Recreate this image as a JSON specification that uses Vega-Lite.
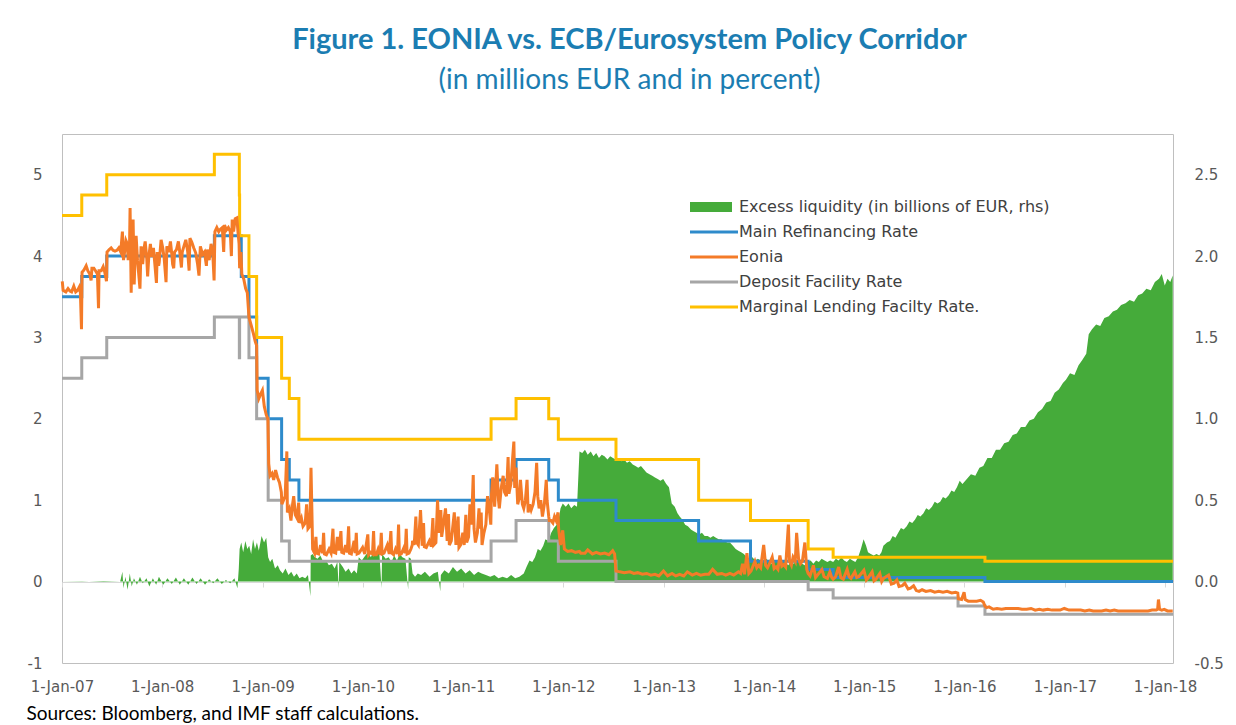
{
"$schema": "https://vega.github.io/schema/vega-lite/v6.json",
"width": 1111, "height": 529,
"autosize": {"type": "none"},
"padding": {"left": 62, "top": 134, "right": 63, "bottom": 62},
"background": "white",
"title": {"text": "Figure 1. EONIA vs. ECB/Eurosystem  Policy Corridor", "subtitle": "(in millions EUR and in percent)", "anchor": "middle", "frame": "group", "font": "Lato", "fontSize": 29, "fontWeight": "bold", "color": "#1B7DB2", "subtitleFont": "Lato", "subtitleFontSize": 28, "subtitleColor": "#1B7DB2", "subtitlePadding": 12, "offset": 39, "dx": 12},
"config": {"view": {"stroke": "#BFBFBF", "strokeWidth": 1}, "axis": {"labelFont": "DejaVu Sans", "labelFontSize": 15, "labelColor": "#595959", "grid": false},
  "legend": {"labelFont": "DejaVu Sans", "labelFontSize": 16, "labelColor": "#404040", "labelLimit": 500}},
"datasets": {
"rates": [
{"s":"Main Refinancing Rate","d":"2007-01-01","v":3.5},{"s":"Main Refinancing Rate","d":"2007-03-14","v":3.75},{"s":"Main Refinancing Rate","d":"2007-06-13","v":4.0},{"s":"Main Refinancing Rate","d":"2008-07-09","v":4.25},{"s":"Main Refinancing Rate","d":"2008-10-15","v":3.75},{"s":"Main Refinancing Rate","d":"2008-11-12","v":3.25},{"s":"Main Refinancing Rate","d":"2008-12-10","v":2.5},{"s":"Main Refinancing Rate","d":"2009-01-21","v":2.0},{"s":"Main Refinancing Rate","d":"2009-03-11","v":1.5},{"s":"Main Refinancing Rate","d":"2009-04-08","v":1.25},{"s":"Main Refinancing Rate","d":"2009-05-13","v":1.0},{"s":"Main Refinancing Rate","d":"2011-04-13","v":1.25},{"s":"Main Refinancing Rate","d":"2011-07-13","v":1.5},{"s":"Main Refinancing Rate","d":"2011-11-09","v":1.25},{"s":"Main Refinancing Rate","d":"2011-12-14","v":1.0},{"s":"Main Refinancing Rate","d":"2012-07-11","v":0.75},{"s":"Main Refinancing Rate","d":"2013-05-08","v":0.5},{"s":"Main Refinancing Rate","d":"2013-11-13","v":0.25},{"s":"Main Refinancing Rate","d":"2014-06-11","v":0.15},{"s":"Main Refinancing Rate","d":"2014-09-10","v":0.05},{"s":"Main Refinancing Rate","d":"2016-03-16","v":0.0},{"s":"Main Refinancing Rate","d":"2018-01-30","v":0.0},
{"s":"Deposit Facility Rate","d":"2007-01-01","v":2.5},{"s":"Deposit Facility Rate","d":"2007-03-14","v":2.75},{"s":"Deposit Facility Rate","d":"2007-06-13","v":3.0},{"s":"Deposit Facility Rate","d":"2008-07-09","v":3.25},{"s":"Deposit Facility Rate","d":"2008-10-08","v":2.75},{"s":"Deposit Facility Rate","d":"2008-10-09","v":3.25},{"s":"Deposit Facility Rate","d":"2008-11-12","v":2.75},{"s":"Deposit Facility Rate","d":"2008-12-10","v":2.0},{"s":"Deposit Facility Rate","d":"2009-01-21","v":1.0},{"s":"Deposit Facility Rate","d":"2009-03-11","v":0.5},{"s":"Deposit Facility Rate","d":"2009-04-08","v":0.25},{"s":"Deposit Facility Rate","d":"2011-04-13","v":0.5},{"s":"Deposit Facility Rate","d":"2011-07-13","v":0.75},{"s":"Deposit Facility Rate","d":"2011-11-09","v":0.5},{"s":"Deposit Facility Rate","d":"2011-12-14","v":0.25},{"s":"Deposit Facility Rate","d":"2012-07-11","v":0.0},{"s":"Deposit Facility Rate","d":"2014-06-11","v":-0.1},{"s":"Deposit Facility Rate","d":"2014-09-10","v":-0.2},{"s":"Deposit Facility Rate","d":"2015-12-09","v":-0.3},{"s":"Deposit Facility Rate","d":"2016-03-16","v":-0.4},{"s":"Deposit Facility Rate","d":"2018-01-30","v":-0.4},
{"s":"Marginal Lending Facilty Rate.","d":"2007-01-01","v":4.5},{"s":"Marginal Lending Facilty Rate.","d":"2007-03-14","v":4.75},{"s":"Marginal Lending Facilty Rate.","d":"2007-06-13","v":5.0},{"s":"Marginal Lending Facilty Rate.","d":"2008-07-09","v":5.25},{"s":"Marginal Lending Facilty Rate.","d":"2008-10-08","v":4.75},{"s":"Marginal Lending Facilty Rate.","d":"2008-10-09","v":4.25},{"s":"Marginal Lending Facilty Rate.","d":"2008-11-12","v":3.75},{"s":"Marginal Lending Facilty Rate.","d":"2008-12-10","v":3.0},{"s":"Marginal Lending Facilty Rate.","d":"2009-03-11","v":2.5},{"s":"Marginal Lending Facilty Rate.","d":"2009-04-08","v":2.25},{"s":"Marginal Lending Facilty Rate.","d":"2009-05-13","v":1.75},{"s":"Marginal Lending Facilty Rate.","d":"2011-04-13","v":2.0},{"s":"Marginal Lending Facilty Rate.","d":"2011-07-13","v":2.25},{"s":"Marginal Lending Facilty Rate.","d":"2011-11-09","v":2.0},{"s":"Marginal Lending Facilty Rate.","d":"2011-12-14","v":1.75},{"s":"Marginal Lending Facilty Rate.","d":"2012-07-11","v":1.5},{"s":"Marginal Lending Facilty Rate.","d":"2013-05-08","v":1.0},{"s":"Marginal Lending Facilty Rate.","d":"2013-11-13","v":0.75},{"s":"Marginal Lending Facilty Rate.","d":"2014-06-11","v":0.4},{"s":"Marginal Lending Facilty Rate.","d":"2014-09-10","v":0.3},{"s":"Marginal Lending Facilty Rate.","d":"2016-03-16","v":0.25},{"s":"Marginal Lending Facilty Rate.","d":"2018-01-30","v":0.25}
],
"eonia": [
{"d":"2007-01-02","v":3.69},{"d":"2007-01-05","v":3.58},{"d":"2007-01-15","v":3.56},{"d":"2007-01-23","v":3.60},{"d":"2007-01-30","v":3.57},{"d":"2007-02-05","v":3.56},{"d":"2007-02-13","v":3.63},{"d":"2007-02-20","v":3.56},{"d":"2007-02-27","v":3.58},{"d":"2007-03-05","v":3.62},{"d":"2007-03-09","v":3.55},{"d":"2007-03-13","v":3.10},{"d":"2007-03-15","v":3.80},{"d":"2007-03-22","v":3.83},{"d":"2007-03-30","v":3.88},{"d":"2007-04-05","v":3.82},{"d":"2007-04-12","v":3.78},{"d":"2007-04-17","v":3.70},{"d":"2007-04-20","v":3.85},{"d":"2007-04-27","v":3.85},{"d":"2007-05-03","v":3.82},{"d":"2007-05-10","v":3.78},{"d":"2007-05-14","v":3.36},{"d":"2007-05-16","v":3.82},{"d":"2007-05-24","v":3.82},{"d":"2007-05-31","v":3.87},{"d":"2007-06-06","v":3.80},{"d":"2007-06-12","v":3.69},{"d":"2007-06-14","v":4.05},{"d":"2007-06-22","v":4.08},{"d":"2007-06-29","v":4.10},{"d":"2007-07-06","v":4.07},{"d":"2007-07-13","v":4.06},{"d":"2007-07-20","v":4.07},{"d":"2007-07-27","v":4.10},{"d":"2007-08-03","v":4.05},{"d":"2007-08-09","v":4.30},{"d":"2007-08-13","v":3.95},{"d":"2007-08-17","v":4.05},{"d":"2007-08-22","v":4.19},{"d":"2007-08-27","v":4.15},{"d":"2007-08-30","v":3.95},{"d":"2007-09-04","v":4.13},{"d":"2007-09-06","v":4.59},{"d":"2007-09-10","v":3.55},{"d":"2007-09-12","v":4.08},{"d":"2007-09-17","v":4.45},{"d":"2007-09-21","v":3.65},{"d":"2007-09-25","v":4.10},{"d":"2007-09-28","v":4.25},{"d":"2007-10-03","v":3.95},{"d":"2007-10-09","v":3.72},{"d":"2007-10-12","v":3.60},{"d":"2007-10-16","v":4.12},{"d":"2007-10-22","v":3.90},{"d":"2007-10-26","v":4.08},{"d":"2007-10-31","v":4.18},{"d":"2007-11-06","v":3.96},{"d":"2007-11-09","v":3.75},{"d":"2007-11-13","v":3.99},{"d":"2007-11-19","v":4.15},{"d":"2007-11-23","v":3.99},{"d":"2007-11-30","v":4.10},{"d":"2007-12-04","v":3.95},{"d":"2007-12-11","v":3.67},{"d":"2007-12-14","v":4.05},{"d":"2007-12-19","v":3.88},{"d":"2007-12-21","v":3.92},{"d":"2007-12-28","v":4.20},
{"d":"2008-01-03","v":4.10},{"d":"2008-01-08","v":3.98},{"d":"2008-01-15","v":3.68},{"d":"2008-01-18","v":4.12},{"d":"2008-01-25","v":4.05},{"d":"2008-01-31","v":4.18},{"d":"2008-02-05","v":4.02},{"d":"2008-02-08","v":3.90},{"d":"2008-02-12","v":3.85},{"d":"2008-02-15","v":4.05},{"d":"2008-02-22","v":4.08},{"d":"2008-02-29","v":4.18},{"d":"2008-03-05","v":4.05},{"d":"2008-03-11","v":3.86},{"d":"2008-03-14","v":4.05},{"d":"2008-03-20","v":4.12},{"d":"2008-03-27","v":4.20},{"d":"2008-04-03","v":4.05},{"d":"2008-04-08","v":3.82},{"d":"2008-04-11","v":4.22},{"d":"2008-04-18","v":4.17},{"d":"2008-04-25","v":4.10},{"d":"2008-05-02","v":4.04},{"d":"2008-05-09","v":3.90},{"d":"2008-05-14","v":3.76},{"d":"2008-05-19","v":4.12},{"d":"2008-05-27","v":4.02},{"d":"2008-06-03","v":4.05},{"d":"2008-06-10","v":3.88},{"d":"2008-06-13","v":4.08},{"d":"2008-06-20","v":3.95},{"d":"2008-06-27","v":4.15},{"d":"2008-07-03","v":4.05},{"d":"2008-07-08","v":3.70},{"d":"2008-07-11","v":4.30},{"d":"2008-07-18","v":4.35},{"d":"2008-07-25","v":4.30},{"d":"2008-07-31","v":4.33},{"d":"2008-08-07","v":4.35},{"d":"2008-08-12","v":4.05},{"d":"2008-08-15","v":4.38},{"d":"2008-08-22","v":4.32},{"d":"2008-08-29","v":4.35},{"d":"2008-09-05","v":4.30},{"d":"2008-09-09","v":4.00},{"d":"2008-09-12","v":4.45},{"d":"2008-09-17","v":4.30},{"d":"2008-09-23","v":4.46},{"d":"2008-09-29","v":4.47},{"d":"2008-10-03","v":4.30},{"d":"2008-10-07","v":4.15},{"d":"2008-10-09","v":3.85},{"d":"2008-10-14","v":4.05},{"d":"2008-10-17","v":3.78},{"d":"2008-10-24","v":3.72},{"d":"2008-10-31","v":3.60},{"d":"2008-11-06","v":3.55},{"d":"2008-11-12","v":3.25},{"d":"2008-11-20","v":3.15},{"d":"2008-11-28","v":3.05},{"d":"2008-12-05","v":2.95},{"d":"2008-12-10","v":2.90},{"d":"2008-12-12","v":2.35},{"d":"2008-12-18","v":2.25},{"d":"2008-12-24","v":2.30},{"d":"2008-12-31","v":2.35},
{"d":"2009-01-07","v":2.15},{"d":"2009-01-14","v":2.05},{"d":"2009-01-20","v":2.00},{"d":"2009-01-23","v":1.45},{"d":"2009-01-28","v":1.30},{"d":"2009-02-04","v":1.33},{"d":"2009-02-10","v":1.25},{"d":"2009-02-17","v":1.37},{"d":"2009-02-24","v":1.28},{"d":"2009-03-03","v":1.22},{"d":"2009-03-10","v":1.10},{"d":"2009-03-12","v":0.95},{"d":"2009-03-18","v":1.00},{"d":"2009-03-24","v":1.05},{"d":"2009-03-30","v":1.60},{"d":"2009-04-01","v":0.85},{"d":"2009-04-08","v":0.90},{"d":"2009-04-14","v":0.75},{"d":"2009-04-20","v":0.95},{"d":"2009-04-24","v":1.05},{"d":"2009-04-30","v":0.82},{"d":"2009-05-06","v":0.78},{"d":"2009-05-12","v":0.97},{"d":"2009-05-15","v":0.72},{"d":"2009-05-22","v":0.78},{"d":"2009-05-28","v":0.68},{"d":"2009-06-05","v":0.72},{"d":"2009-06-10","v":0.95},{"d":"2009-06-15","v":0.65},{"d":"2009-06-22","v":0.68},{"d":"2009-06-26","v":1.40},{"d":"2009-06-30","v":0.75},
{"d":"2009-07-02","v":0.40},{"d":"2009-07-09","v":0.35},{"d":"2009-07-14","v":0.55},{"d":"2009-07-17","v":0.35},{"d":"2009-07-24","v":0.34},{"d":"2009-07-31","v":0.45},{"d":"2009-08-07","v":0.35},{"d":"2009-08-11","v":0.60},{"d":"2009-08-14","v":0.34},{"d":"2009-08-21","v":0.33},{"d":"2009-08-31","v":0.40},{"d":"2009-09-07","v":0.35},{"d":"2009-09-14","v":0.65},{"d":"2009-09-17","v":0.36},{"d":"2009-09-24","v":0.35},{"d":"2009-09-30","v":0.55},{"d":"2009-10-06","v":0.38},{"d":"2009-10-13","v":0.62},{"d":"2009-10-16","v":0.36},{"d":"2009-10-23","v":0.35},{"d":"2009-10-30","v":0.45},{"d":"2009-11-05","v":0.36},{"d":"2009-11-10","v":0.68},{"d":"2009-11-13","v":0.35},{"d":"2009-11-20","v":0.34},{"d":"2009-11-30","v":0.50},{"d":"2009-12-04","v":0.35},{"d":"2009-12-08","v":0.60},{"d":"2009-12-11","v":0.34},{"d":"2009-12-18","v":0.35},{"d":"2009-12-31","v":0.42},
{"d":"2010-01-08","v":0.34},{"d":"2010-01-19","v":0.58},{"d":"2010-01-22","v":0.33},{"d":"2010-01-29","v":0.36},{"d":"2010-02-05","v":0.34},{"d":"2010-02-09","v":0.62},{"d":"2010-02-12","v":0.33},{"d":"2010-02-19","v":0.33},{"d":"2010-02-26","v":0.40},{"d":"2010-03-05","v":0.33},{"d":"2010-03-09","v":0.60},{"d":"2010-03-12","v":0.34},{"d":"2010-03-19","v":0.35},{"d":"2010-03-31","v":0.45},{"d":"2010-04-07","v":0.34},{"d":"2010-04-13","v":0.62},{"d":"2010-04-16","v":0.35},{"d":"2010-04-23","v":0.33},{"d":"2010-04-30","v":0.40},{"d":"2010-05-07","v":0.34},{"d":"2010-05-11","v":0.70},{"d":"2010-05-14","v":0.33},{"d":"2010-05-21","v":0.34},{"d":"2010-05-31","v":0.42},{"d":"2010-06-04","v":0.35},{"d":"2010-06-08","v":0.65},{"d":"2010-06-11","v":0.34},{"d":"2010-06-18","v":0.35},{"d":"2010-06-25","v":0.40},{"d":"2010-06-30","v":0.45},
{"d":"2010-07-01","v":0.50},{"d":"2010-07-07","v":0.45},{"d":"2010-07-13","v":0.80},{"d":"2010-07-16","v":0.48},{"d":"2010-07-22","v":0.45},{"d":"2010-07-30","v":0.88},{"d":"2010-08-05","v":0.44},{"d":"2010-08-10","v":0.72},{"d":"2010-08-13","v":0.43},{"d":"2010-08-20","v":0.42},{"d":"2010-08-31","v":0.50},{"d":"2010-09-07","v":0.43},{"d":"2010-09-13","v":0.78},{"d":"2010-09-16","v":0.45},{"d":"2010-09-24","v":0.48},{"d":"2010-09-30","v":1.00},{"d":"2010-10-05","v":0.60},{"d":"2010-10-12","v":0.88},{"d":"2010-10-15","v":0.55},{"d":"2010-10-22","v":0.72},{"d":"2010-10-29","v":0.90},{"d":"2010-11-04","v":0.50},{"d":"2010-11-09","v":0.83},{"d":"2010-11-12","v":0.45},{"d":"2010-11-19","v":0.50},{"d":"2010-11-30","v":0.85},{"d":"2010-12-06","v":0.45},{"d":"2010-12-14","v":0.80},{"d":"2010-12-17","v":0.42},{"d":"2010-12-23","v":0.45},{"d":"2010-12-31","v":0.60},
{"d":"2011-01-05","v":0.45},{"d":"2011-01-11","v":0.82},{"d":"2011-01-14","v":0.48},{"d":"2011-01-21","v":0.55},{"d":"2011-01-26","v":0.95},{"d":"2011-02-01","v":0.70},{"d":"2011-02-07","v":1.31},{"d":"2011-02-10","v":0.65},{"d":"2011-02-15","v":0.48},{"d":"2011-02-22","v":0.60},{"d":"2011-02-28","v":0.90},{"d":"2011-03-04","v":0.65},{"d":"2011-03-08","v":0.85},{"d":"2011-03-11","v":0.45},{"d":"2011-03-18","v":0.60},{"d":"2011-03-25","v":0.70},{"d":"2011-03-31","v":1.05},{"d":"2011-04-06","v":0.90},{"d":"2011-04-12","v":0.70},{"d":"2011-04-14","v":1.05},{"d":"2011-04-19","v":1.28},{"d":"2011-04-26","v":0.92},{"d":"2011-05-04","v":1.44},{"d":"2011-05-10","v":1.00},{"d":"2011-05-13","v":0.90},{"d":"2011-05-20","v":1.15},{"d":"2011-05-27","v":1.30},{"d":"2011-06-01","v":1.10},{"d":"2011-06-08","v":1.05},{"d":"2011-06-14","v":1.53},{"d":"2011-06-17","v":1.08},{"d":"2011-06-24","v":1.20},{"d":"2011-06-30","v":1.50},{"d":"2011-07-05","v":1.72},{"d":"2011-07-08","v":1.15},{"d":"2011-07-13","v":1.40},{"d":"2011-07-19","v":0.95},{"d":"2011-07-26","v":1.05},{"d":"2011-07-29","v":1.25},{"d":"2011-08-05","v":0.95},{"d":"2011-08-10","v":0.90},{"d":"2011-08-16","v":1.00},{"d":"2011-08-22","v":1.25},{"d":"2011-08-26","v":0.85},{"d":"2011-08-31","v":0.95},{"d":"2011-09-06","v":0.88},{"d":"2011-09-13","v":0.95},{"d":"2011-09-20","v":1.10},{"d":"2011-09-26","v":1.46},{"d":"2011-09-30","v":1.05},{"d":"2011-10-05","v":0.90},{"d":"2011-10-11","v":1.00},{"d":"2011-10-17","v":0.80},{"d":"2011-10-24","v":0.95},{"d":"2011-10-31","v":1.25},{"d":"2011-11-03","v":1.00},{"d":"2011-11-09","v":0.80},{"d":"2011-11-11","v":0.75},{"d":"2011-11-17","v":0.75},{"d":"2011-11-24","v":0.72},{"d":"2011-11-30","v":0.80},{"d":"2011-12-06","v":0.75},{"d":"2011-12-13","v":0.85},{"d":"2011-12-15","v":0.65},{"d":"2011-12-22","v":0.45},{"d":"2011-12-30","v":0.63},
{"d":"2012-01-05","v":0.40},{"d":"2012-01-17","v":0.37},{"d":"2012-01-31","v":0.38},{"d":"2012-02-14","v":0.36},{"d":"2012-02-29","v":0.37},{"d":"2012-03-05","v":0.35},{"d":"2012-03-20","v":0.35},{"d":"2012-03-30","v":0.39},{"d":"2012-04-16","v":0.34},{"d":"2012-04-30","v":0.36},{"d":"2012-05-15","v":0.34},{"d":"2012-05-31","v":0.35},{"d":"2012-06-15","v":0.33},{"d":"2012-06-29","v":0.38},{"d":"2012-07-06","v":0.34},{"d":"2012-07-11","v":0.13},{"d":"2012-07-25","v":0.12},{"d":"2012-08-10","v":0.11},{"d":"2012-08-31","v":0.12},{"d":"2012-09-14","v":0.10},{"d":"2012-09-28","v":0.11},{"d":"2012-10-15","v":0.09},{"d":"2012-10-31","v":0.10},{"d":"2012-11-15","v":0.08},{"d":"2012-11-30","v":0.09},{"d":"2012-12-14","v":0.07},{"d":"2012-12-31","v":0.13},
{"d":"2013-01-15","v":0.07},{"d":"2013-01-31","v":0.10},{"d":"2013-02-14","v":0.07},{"d":"2013-02-28","v":0.09},{"d":"2013-03-15","v":0.07},{"d":"2013-03-28","v":0.12},{"d":"2013-04-15","v":0.08},{"d":"2013-04-30","v":0.10},{"d":"2013-05-15","v":0.08},{"d":"2013-05-31","v":0.09},{"d":"2013-06-14","v":0.09},{"d":"2013-06-28","v":0.15},{"d":"2013-07-15","v":0.09},{"d":"2013-07-31","v":0.10},{"d":"2013-08-15","v":0.08},{"d":"2013-08-30","v":0.10},{"d":"2013-09-13","v":0.08},{"d":"2013-09-30","v":0.12},{"d":"2013-10-08","v":0.10},{"d":"2013-10-15","v":0.22},{"d":"2013-10-22","v":0.09},{"d":"2013-10-31","v":0.35},{"d":"2013-11-07","v":0.10},{"d":"2013-11-15","v":0.13},{"d":"2013-11-29","v":0.25},{"d":"2013-12-06","v":0.17},{"d":"2013-12-13","v":0.20},{"d":"2013-12-20","v":0.17},{"d":"2013-12-31","v":0.45},
{"d":"2014-01-07","v":0.20},{"d":"2014-01-14","v":0.17},{"d":"2014-01-21","v":0.22},{"d":"2014-01-31","v":0.30},{"d":"2014-02-07","v":0.16},{"d":"2014-02-14","v":0.18},{"d":"2014-02-21","v":0.15},{"d":"2014-02-28","v":0.32},{"d":"2014-03-07","v":0.19},{"d":"2014-03-14","v":0.21},{"d":"2014-03-21","v":0.18},{"d":"2014-03-31","v":0.70},{"d":"2014-04-04","v":0.25},{"d":"2014-04-11","v":0.20},{"d":"2014-04-17","v":0.30},{"d":"2014-04-25","v":0.25},{"d":"2014-04-30","v":0.60},{"d":"2014-05-07","v":0.28},{"d":"2014-05-14","v":0.22},{"d":"2014-05-21","v":0.25},{"d":"2014-05-30","v":0.48},{"d":"2014-06-06","v":0.15},{"d":"2014-06-11","v":0.10},{"d":"2014-06-18","v":0.07},{"d":"2014-06-30","v":0.20},{"d":"2014-07-08","v":0.05},{"d":"2014-07-15","v":0.08},{"d":"2014-07-31","v":0.15},{"d":"2014-08-08","v":0.06},{"d":"2014-08-20","v":0.04},{"d":"2014-08-29","v":0.12},{"d":"2014-09-05","v":0.05},{"d":"2014-09-10","v":0.03},{"d":"2014-09-19","v":0.06},{"d":"2014-09-30","v":0.18},{"d":"2014-10-08","v":0.05},{"d":"2014-10-17","v":0.03},{"d":"2014-10-31","v":0.15},{"d":"2014-11-07","v":0.06},{"d":"2014-11-14","v":0.04},{"d":"2014-11-28","v":0.12},{"d":"2014-12-05","v":0.05},{"d":"2014-12-12","v":0.06},{"d":"2014-12-31","v":0.14},
{"d":"2015-01-09","v":0.02},{"d":"2015-01-16","v":0.05},{"d":"2015-01-30","v":0.12},{"d":"2015-02-06","v":0.01},{"d":"2015-02-13","v":0.03},{"d":"2015-02-27","v":0.10},{"d":"2015-03-06","v":0.00},{"d":"2015-03-13","v":0.04},{"d":"2015-03-31","v":0.08},{"d":"2015-04-10","v":-0.03},{"d":"2015-04-20","v":-0.02},{"d":"2015-04-30","v":0.02},{"d":"2015-05-08","v":-0.06},{"d":"2015-05-20","v":-0.05},{"d":"2015-05-29","v":-0.02},{"d":"2015-06-10","v":-0.09},{"d":"2015-06-19","v":-0.08},{"d":"2015-06-30","v":-0.05},{"d":"2015-07-10","v":-0.11},{"d":"2015-07-20","v":-0.12},{"d":"2015-07-31","v":-0.10},{"d":"2015-08-14","v":-0.12},{"d":"2015-08-31","v":-0.11},{"d":"2015-09-15","v":-0.13},{"d":"2015-09-30","v":-0.12},{"d":"2015-10-15","v":-0.13},{"d":"2015-10-30","v":-0.12},{"d":"2015-11-16","v":-0.14},{"d":"2015-11-30","v":-0.13},{"d":"2015-12-08","v":-0.14},{"d":"2015-12-10","v":-0.21},{"d":"2015-12-22","v":-0.22},{"d":"2015-12-31","v":-0.13},
{"d":"2016-01-04","v":-0.22},{"d":"2016-01-15","v":-0.24},{"d":"2016-01-29","v":-0.24},{"d":"2016-02-15","v":-0.24},{"d":"2016-02-29","v":-0.23},{"d":"2016-03-10","v":-0.25},{"d":"2016-03-16","v":-0.30},{"d":"2016-03-22","v":-0.32},{"d":"2016-03-31","v":-0.31},{"d":"2016-04-15","v":-0.34},{"d":"2016-04-29","v":-0.33},{"d":"2016-05-16","v":-0.34},{"d":"2016-05-31","v":-0.33},{"d":"2016-06-15","v":-0.33},{"d":"2016-06-30","v":-0.33},{"d":"2016-07-15","v":-0.33},{"d":"2016-07-29","v":-0.34},{"d":"2016-08-15","v":-0.34},{"d":"2016-08-31","v":-0.33},{"d":"2016-09-15","v":-0.35},{"d":"2016-09-30","v":-0.34},{"d":"2016-10-14","v":-0.35},{"d":"2016-10-31","v":-0.34},{"d":"2016-11-15","v":-0.35},{"d":"2016-11-30","v":-0.35},{"d":"2016-12-15","v":-0.35},{"d":"2016-12-30","v":-0.33},
{"d":"2017-01-16","v":-0.35},{"d":"2017-01-31","v":-0.35},{"d":"2017-02-15","v":-0.35},{"d":"2017-02-28","v":-0.35},{"d":"2017-03-15","v":-0.36},{"d":"2017-03-31","v":-0.35},{"d":"2017-04-14","v":-0.36},{"d":"2017-04-28","v":-0.36},{"d":"2017-05-15","v":-0.36},{"d":"2017-05-31","v":-0.35},{"d":"2017-06-15","v":-0.36},{"d":"2017-06-30","v":-0.35},{"d":"2017-07-14","v":-0.36},{"d":"2017-07-31","v":-0.36},{"d":"2017-08-15","v":-0.36},{"d":"2017-08-31","v":-0.36},{"d":"2017-09-15","v":-0.36},{"d":"2017-09-29","v":-0.36},{"d":"2017-10-16","v":-0.36},{"d":"2017-10-31","v":-0.36},{"d":"2017-11-15","v":-0.35},{"d":"2017-11-30","v":-0.35},{"d":"2017-12-05","v":-0.34},{"d":"2017-12-08","v":-0.22},{"d":"2017-12-12","v":-0.34},{"d":"2017-12-20","v":-0.35},{"d":"2017-12-29","v":-0.34},{"d":"2018-01-10","v":-0.36},{"d":"2018-01-29","v":-0.36}
],
"el": [
{"d":"2007-01-01","v":0.0},{"d":"2007-03-15","v":0.003},{"d":"2007-06-01","v":-0.003},{"d":"2007-08-01","v":0.0},{"d":"2007-08-09","v":0.06},{"d":"2007-08-13","v":-0.04},{"d":"2007-08-20","v":0.03},{"d":"2007-08-28","v":-0.05},{"d":"2007-09-05","v":0.05},{"d":"2007-09-12","v":-0.03},{"d":"2007-09-20","v":0.02},{"d":"2007-10-01","v":-0.02},{"d":"2007-10-12","v":0.03},{"d":"2007-10-22","v":-0.01},{"d":"2007-11-05","v":0.02},{"d":"2007-11-15","v":-0.03},{"d":"2007-11-28","v":0.02},{"d":"2007-12-10","v":-0.02},{"d":"2007-12-20","v":0.03},
{"d":"2008-01-05","v":-0.02},{"d":"2008-01-20","v":0.02},{"d":"2008-02-05","v":-0.015},{"d":"2008-02-20","v":0.025},{"d":"2008-03-05","v":-0.02},{"d":"2008-03-20","v":0.02},{"d":"2008-04-05","v":-0.02},{"d":"2008-04-20","v":0.025},{"d":"2008-05-05","v":-0.015},{"d":"2008-05-20","v":0.02},{"d":"2008-06-05","v":-0.02},{"d":"2008-06-20","v":0.015},{"d":"2008-07-05","v":-0.01},{"d":"2008-07-20","v":0.02},{"d":"2008-08-05","v":-0.015},{"d":"2008-08-20","v":0.01},{"d":"2008-09-05","v":-0.01},{"d":"2008-09-20","v":0.02},{"d":"2008-10-01","v":-0.04},{"d":"2008-10-06","v":0.08},{"d":"2008-10-09","v":0.20},{"d":"2008-10-15","v":0.24},{"d":"2008-10-22","v":0.18},{"d":"2008-10-30","v":0.25},{"d":"2008-11-06","v":0.20},{"d":"2008-11-13","v":0.22},{"d":"2008-11-20","v":0.17},{"d":"2008-11-27","v":0.26},{"d":"2008-12-04","v":0.20},{"d":"2008-12-11","v":0.24},{"d":"2008-12-18","v":0.19},{"d":"2008-12-28","v":0.28},
{"d":"2009-01-06","v":0.24},{"d":"2009-01-14","v":0.27},{"d":"2009-01-21","v":0.15},{"d":"2009-01-28","v":0.12},{"d":"2009-02-05","v":0.14},{"d":"2009-02-15","v":0.08},{"d":"2009-02-25","v":0.10},{"d":"2009-03-05","v":0.07},{"d":"2009-03-15","v":0.05},{"d":"2009-03-25","v":0.08},{"d":"2009-04-05","v":0.04},{"d":"2009-04-15","v":0.06},{"d":"2009-04-25","v":0.03},{"d":"2009-05-05","v":0.05},{"d":"2009-05-15","v":0.02},{"d":"2009-05-25","v":0.03},{"d":"2009-06-05","v":0.02},{"d":"2009-06-15","v":0.04},{"d":"2009-06-24","v":-0.09},{"d":"2009-06-25","v":0.16},{"d":"2009-07-02","v":0.17},{"d":"2009-07-10","v":0.15},{"d":"2009-07-20","v":0.14},{"d":"2009-07-30","v":0.16},{"d":"2009-08-10","v":0.12},{"d":"2009-08-20","v":0.13},{"d":"2009-08-30","v":0.10},{"d":"2009-09-10","v":0.11},{"d":"2009-09-20","v":0.08},{"d":"2009-09-30","v":0.12},{"d":"2009-10-05","v":-0.04},{"d":"2009-10-07","v":0.12},{"d":"2009-10-20","v":0.09},{"d":"2009-10-30","v":0.06},{"d":"2009-11-10","v":0.08},{"d":"2009-11-20","v":0.05},{"d":"2009-11-30","v":0.07},{"d":"2009-12-10","v":0.05},{"d":"2009-12-17","v":0.15},{"d":"2009-12-28","v":0.13},
{"d":"2010-01-10","v":0.16},{"d":"2010-01-20","v":0.18},{"d":"2010-01-30","v":0.15},{"d":"2010-02-10","v":0.19},{"d":"2010-02-20","v":0.17},{"d":"2010-03-01","v":0.20},{"d":"2010-03-10","v":-0.04},{"d":"2010-03-12","v":0.17},{"d":"2010-03-25","v":0.14},{"d":"2010-04-05","v":0.15},{"d":"2010-04-15","v":0.12},{"d":"2010-04-25","v":0.16},{"d":"2010-05-05","v":0.13},{"d":"2010-05-15","v":0.17},{"d":"2010-05-25","v":0.15},{"d":"2010-06-05","v":0.14},{"d":"2010-06-15","v":-0.05},{"d":"2010-06-17","v":0.15},{"d":"2010-06-25","v":0.14},{"d":"2010-07-01","v":0.05},{"d":"2010-07-10","v":0.03},{"d":"2010-07-20","v":0.05},{"d":"2010-08-01","v":0.04},{"d":"2010-08-15","v":0.06},{"d":"2010-09-01","v":0.03},{"d":"2010-09-15","v":0.05},{"d":"2010-10-01","v":0.06},{"d":"2010-10-10","v":-0.06},{"d":"2010-10-12","v":0.04},{"d":"2010-10-25","v":0.07},{"d":"2010-11-10","v":0.05},{"d":"2010-11-25","v":0.09},{"d":"2010-12-10","v":0.06},{"d":"2010-12-25","v":0.08},
{"d":"2011-01-10","v":0.05},{"d":"2011-01-25","v":0.07},{"d":"2011-02-10","v":0.04},{"d":"2011-02-25","v":0.06},{"d":"2011-03-10","v":0.05},{"d":"2011-03-25","v":0.04},{"d":"2011-04-10","v":0.03},{"d":"2011-04-25","v":0.04},{"d":"2011-05-10","v":0.02},{"d":"2011-05-25","v":0.03},{"d":"2011-06-10","v":0.02},{"d":"2011-06-25","v":0.04},{"d":"2011-07-10","v":0.02},{"d":"2011-07-25","v":0.03},{"d":"2011-08-10","v":0.05},{"d":"2011-08-20","v":0.09},{"d":"2011-08-31","v":0.13},{"d":"2011-09-10","v":0.12},{"d":"2011-09-20","v":0.15},{"d":"2011-09-30","v":0.20},{"d":"2011-10-10","v":0.19},{"d":"2011-10-20","v":0.22},{"d":"2011-10-28","v":0.26},{"d":"2011-11-08","v":0.25},{"d":"2011-11-18","v":0.30},{"d":"2011-11-28","v":0.33},{"d":"2011-12-08","v":0.35},{"d":"2011-12-15","v":0.38},{"d":"2011-12-22","v":0.45},{"d":"2011-12-30","v":0.48},
{"d":"2012-01-10","v":0.46},{"d":"2012-01-20","v":0.48},{"d":"2012-01-30","v":0.45},{"d":"2012-02-10","v":0.47},{"d":"2012-02-20","v":0.46},{"d":"2012-02-29","v":0.80},{"d":"2012-03-10","v":0.79},{"d":"2012-03-20","v":0.81},{"d":"2012-03-30","v":0.78},{"d":"2012-04-10","v":0.80},{"d":"2012-04-20","v":0.77},{"d":"2012-04-30","v":0.79},{"d":"2012-05-10","v":0.76},{"d":"2012-05-20","v":0.78},{"d":"2012-05-30","v":0.77},{"d":"2012-06-10","v":0.75},{"d":"2012-06-20","v":0.77},{"d":"2012-06-30","v":0.76},{"d":"2012-07-10","v":0.75},{"d":"2012-07-20","v":0.76},{"d":"2012-07-30","v":0.74},{"d":"2012-08-10","v":0.75},{"d":"2012-08-20","v":0.73},{"d":"2012-08-30","v":0.74},{"d":"2012-09-10","v":0.72},{"d":"2012-09-20","v":0.71},{"d":"2012-09-30","v":0.70},{"d":"2012-10-10","v":0.71},{"d":"2012-10-20","v":0.69},{"d":"2012-10-30","v":0.67},{"d":"2012-11-10","v":0.66},{"d":"2012-11-20","v":0.65},{"d":"2012-11-30","v":0.64},{"d":"2012-12-10","v":0.63},{"d":"2012-12-20","v":0.62},{"d":"2012-12-30","v":0.63},
{"d":"2013-01-10","v":0.60},{"d":"2013-01-20","v":0.58},{"d":"2013-01-30","v":0.48},{"d":"2013-02-10","v":0.46},{"d":"2013-02-20","v":0.42},{"d":"2013-02-28","v":0.40},{"d":"2013-03-10","v":0.38},{"d":"2013-03-20","v":0.35},{"d":"2013-03-30","v":0.34},{"d":"2013-04-10","v":0.32},{"d":"2013-04-20","v":0.31},{"d":"2013-04-30","v":0.30},{"d":"2013-05-10","v":0.29},{"d":"2013-05-20","v":0.30},{"d":"2013-05-30","v":0.28},{"d":"2013-06-10","v":0.28},{"d":"2013-06-20","v":0.27},{"d":"2013-06-30","v":0.28},{"d":"2013-07-10","v":0.27},{"d":"2013-07-20","v":0.26},{"d":"2013-07-30","v":0.26},{"d":"2013-08-10","v":0.25},{"d":"2013-08-20","v":0.24},{"d":"2013-08-30","v":0.24},{"d":"2013-09-10","v":0.22},{"d":"2013-09-20","v":0.20},{"d":"2013-09-30","v":0.19},{"d":"2013-10-10","v":0.18},{"d":"2013-10-20","v":0.17},{"d":"2013-10-30","v":0.15},{"d":"2013-11-10","v":0.14},{"d":"2013-11-20","v":0.15},{"d":"2013-11-30","v":0.13},{"d":"2013-12-10","v":0.14},{"d":"2013-12-20","v":0.13},{"d":"2013-12-30","v":0.12},
{"d":"2014-01-10","v":0.14},{"d":"2014-01-20","v":0.12},{"d":"2014-01-30","v":0.11},{"d":"2014-02-10","v":0.13},{"d":"2014-02-20","v":0.12},{"d":"2014-03-01","v":0.11},{"d":"2014-03-15","v":0.13},{"d":"2014-03-30","v":0.10},{"d":"2014-04-10","v":0.12},{"d":"2014-04-20","v":0.11},{"d":"2014-04-30","v":0.13},{"d":"2014-05-10","v":0.12},{"d":"2014-05-20","v":0.11},{"d":"2014-05-30","v":0.10},{"d":"2014-06-10","v":0.12},{"d":"2014-06-20","v":0.13},{"d":"2014-06-30","v":0.11},{"d":"2014-07-10","v":0.13},{"d":"2014-07-20","v":0.12},{"d":"2014-07-30","v":0.14},{"d":"2014-08-10","v":0.13},{"d":"2014-08-20","v":0.12},{"d":"2014-08-30","v":0.13},{"d":"2014-09-10","v":0.12},{"d":"2014-09-20","v":0.14},{"d":"2014-09-30","v":0.13},{"d":"2014-10-10","v":0.15},{"d":"2014-10-20","v":0.13},{"d":"2014-10-30","v":0.12},{"d":"2014-11-10","v":0.14},{"d":"2014-11-20","v":0.13},{"d":"2014-11-30","v":0.12},{"d":"2014-12-10","v":0.15},{"d":"2014-12-20","v":0.20},{"d":"2014-12-30","v":0.26},
{"d":"2015-01-08","v":0.22},{"d":"2015-01-15","v":0.18},{"d":"2015-01-25","v":0.17},{"d":"2015-02-05","v":0.16},{"d":"2015-02-15","v":0.17},{"d":"2015-02-25","v":0.16},{"d":"2015-03-05","v":0.18},{"d":"2015-03-12","v":0.22},{"d":"2015-03-25","v":0.24},{"d":"2015-04-05","v":0.25},{"d":"2015-04-15","v":0.28},{"d":"2015-04-25","v":0.27},{"d":"2015-05-05","v":0.30},{"d":"2015-05-15","v":0.33},{"d":"2015-05-25","v":0.32},{"d":"2015-06-05","v":0.34},{"d":"2015-06-15","v":0.37},{"d":"2015-06-25","v":0.36},{"d":"2015-07-05","v":0.38},{"d":"2015-07-15","v":0.41},{"d":"2015-07-25","v":0.40},{"d":"2015-08-05","v":0.42},{"d":"2015-08-15","v":0.45},{"d":"2015-08-25","v":0.44},{"d":"2015-09-05","v":0.46},{"d":"2015-09-15","v":0.49},{"d":"2015-09-25","v":0.48},{"d":"2015-10-05","v":0.49},{"d":"2015-10-15","v":0.52},{"d":"2015-10-25","v":0.51},{"d":"2015-11-05","v":0.53},{"d":"2015-11-15","v":0.56},{"d":"2015-11-25","v":0.55},{"d":"2015-12-05","v":0.58},{"d":"2015-12-15","v":0.62},{"d":"2015-12-25","v":0.60},
{"d":"2016-01-10","v":0.63},{"d":"2016-01-25","v":0.66},{"d":"2016-02-10","v":0.65},{"d":"2016-02-25","v":0.70},{"d":"2016-03-10","v":0.71},{"d":"2016-03-25","v":0.76},{"d":"2016-04-10","v":0.76},{"d":"2016-04-25","v":0.81},{"d":"2016-05-10","v":0.81},{"d":"2016-05-25","v":0.85},{"d":"2016-06-10","v":0.86},{"d":"2016-06-25","v":0.90},{"d":"2016-07-10","v":0.91},{"d":"2016-07-25","v":0.95},{"d":"2016-08-10","v":0.95},{"d":"2016-08-25","v":0.99},{"d":"2016-09-10","v":1.00},{"d":"2016-09-25","v":1.04},{"d":"2016-10-10","v":1.06},{"d":"2016-10-25","v":1.10},{"d":"2016-11-10","v":1.11},{"d":"2016-11-25","v":1.16},{"d":"2016-12-10","v":1.18},{"d":"2016-12-25","v":1.22},
{"d":"2017-01-05","v":1.24},{"d":"2017-01-20","v":1.28},{"d":"2017-02-05","v":1.27},{"d":"2017-02-20","v":1.33},{"d":"2017-03-05","v":1.36},{"d":"2017-03-20","v":1.40},{"d":"2017-03-29","v":1.52},{"d":"2017-04-10","v":1.55},{"d":"2017-04-25","v":1.58},{"d":"2017-05-10","v":1.57},{"d":"2017-05-25","v":1.62},{"d":"2017-06-10","v":1.63},{"d":"2017-06-25","v":1.66},{"d":"2017-07-10","v":1.67},{"d":"2017-07-25","v":1.70},{"d":"2017-08-10","v":1.71},{"d":"2017-08-25","v":1.73},{"d":"2017-09-10","v":1.72},{"d":"2017-09-25","v":1.76},{"d":"2017-10-10","v":1.77},{"d":"2017-10-25","v":1.80},{"d":"2017-11-10","v":1.79},{"d":"2017-11-25","v":1.84},{"d":"2017-12-10","v":1.86},{"d":"2017-12-20","v":1.89},{"d":"2017-12-31","v":1.82},{"d":"2018-01-10","v":1.86},{"d":"2018-01-20","v":1.84},{"d":"2018-01-29","v":1.88}
]
},
"encoding": {
  "x": {"field": "d", "type": "temporal",
    "scale": {"type": "utc", "domain": [{"year": 2007, "month": 1, "date": 1, "utc": true}, {"year": 2018, "month": 1, "date": 30, "utc": true}]},
    "axis": {"orient": "bottom", "offset": -81, "labelExpr": "utcFormat(datum.value, '%-d-%b-%y')",
      "values": [{"year": 2007, "month": 1, "date": 1, "utc": true},{"year": 2008, "month": 1, "date": 1, "utc": true},{"year": 2009, "month": 1, "date": 1, "utc": true},{"year": 2010, "month": 1, "date": 1, "utc": true},{"year": 2011, "month": 1, "date": 1, "utc": true},{"year": 2012, "month": 1, "date": 1, "utc": true},{"year": 2013, "month": 1, "date": 1, "utc": true},{"year": 2014, "month": 1, "date": 1, "utc": true},{"year": 2015, "month": 1, "date": 1, "utc": true},{"year": 2016, "month": 1, "date": 1, "utc": true},{"year": 2017, "month": 1, "date": 1, "utc": true},{"year": 2018, "month": 1, "date": 1, "utc": true}],
      "domainColor": "#D9D9D9", "tickColor": "#D9D9D9", "tickSize": 5, "labelPadding": 92, "labelFlush": false, "labelOverlap": false,
      "title": "Sources: Bloomberg, and IMF staff calculations.", "titleFont": "Lato", "titleFontSize": 19, "titleFontWeight": "normal", "titleColor": "#000000", "titleAnchor": "start", "titleAlign": "left", "titleBaseline": "alphabetic", "titleX": -36, "titleY": 137}
  }
},
"layer": [
  {"data": {"name": "el"},
   "mark": {"type": "area", "interpolate": "linear", "opacity": 1},
   "encoding": {
     "y": {"field": "v", "type": "quantitative", "scale": {"domain": [-0.5, 2.75], "nice": false, "zero": false},
       "axis": {"orient": "right", "values": [-0.5, 0, 0.5, 1, 1.5, 2, 2.5], "labelExpr": "replace(format(datum.value, '.1f'), '\u2212', '-')", "ticks": false, "domain": false, "labelPadding": 21, "title": null}},
     "y2": {"datum": 0},
     "color": {"datum": "Excess liquidity (in billions of EUR, rhs)", "type": "nominal",
       "scale": {"domain": ["Excess liquidity (in billions of EUR, rhs)", "Main Refinancing Rate", "Eonia", "Deposit Facility Rate", "Marginal Lending Facilty Rate."], "range": ["#45AB3A", "#2E8BCB", "#F47B28", "#A6A6A6", "#FFC000"]},
       "legend": {"title": null, "orient": "none", "legendX": 644, "legendY": 65, "symbolType": "M-2.4,0H2.4", "symbolSize": 400, "symbolStrokeWidth": 3, "labelOffset": 17, "rowPadding": 9,
         "encode": {"symbols": {"update": {
            "shape": {"signal": "datum.value === 'Excess liquidity (in billions of EUR, rhs)' ? 'M-2.4,-0.5H1.8V0.5H-2.4Z' : 'M-2.4,0H2.4'"},
            "stroke": {"signal": "scale('color', datum.value)"},
            "strokeWidth": {"signal": "datum.value === 'Excess liquidity (in billions of EUR, rhs)' ? 0 : 3"},
            "fill": {"signal": "datum.value === 'Excess liquidity (in billions of EUR, rhs)' ? '#45AB3A' : 'transparent'"},
            "opacity": {"value": 1}}}}}}
   }},
  {"layer": [
     {"data": {"name": "rates"},
      "mark": {"type": "line", "interpolate": "step-after", "strokeWidth": 3},
      "encoding": {"color": {"field": "s", "type": "nominal",
       "legend": {"title": null, "orient": "none", "legendX": 644, "legendY": 65, "symbolType": "M-2.4,0H2.4", "symbolSize": 400, "symbolStrokeWidth": 3, "labelOffset": 17, "rowPadding": 9,
         "encode": {"symbols": {"update": {
            "shape": {"signal": "datum.value === 'Excess liquidity (in billions of EUR, rhs)' ? 'M-2.4,-0.5H1.8V0.5H-2.4Z' : 'M-2.4,0H2.4'"},
            "stroke": {"signal": "scale('color', datum.value)"},
            "strokeWidth": {"signal": "datum.value === 'Excess liquidity (in billions of EUR, rhs)' ? 0 : 3"},
            "fill": {"signal": "datum.value === 'Excess liquidity (in billions of EUR, rhs)' ? '#45AB3A' : 'transparent'"},
            "opacity": {"value": 1}}}}}}}},
     {"data": {"name": "eonia"},
      "mark": {"type": "line", "interpolate": "linear", "strokeWidth": 3},
      "encoding": {"color": {"datum": "Eonia", "type": "nominal",
       "legend": {"title": null, "orient": "none", "legendX": 644, "legendY": 65, "symbolType": "M-2.4,0H2.4", "symbolSize": 400, "symbolStrokeWidth": 3, "labelOffset": 17, "rowPadding": 9,
         "encode": {"symbols": {"update": {
            "shape": {"signal": "datum.value === 'Excess liquidity (in billions of EUR, rhs)' ? 'M-2.4,-0.5H1.8V0.5H-2.4Z' : 'M-2.4,0H2.4'"},
            "stroke": {"signal": "scale('color', datum.value)"},
            "strokeWidth": {"signal": "datum.value === 'Excess liquidity (in billions of EUR, rhs)' ? 0 : 3"},
            "fill": {"signal": "datum.value === 'Excess liquidity (in billions of EUR, rhs)' ? '#45AB3A' : 'transparent'"},
            "opacity": {"value": 1}}}}}}}}
   ],
   "encoding": {
     "y": {"field": "v", "type": "quantitative", "scale": {"domain": [-1, 5.5], "nice": false, "zero": false},
       "axis": {"orient": "left", "values": [-1, 0, 1, 2, 3, 4, 5], "labelExpr": "replace(format(datum.value, 'd'), '\u2212', '-')", "ticks": false, "domain": false, "labelPadding": 20, "title": null}}
   }}
],
"resolve": {"scale": {"y": "independent"}}
}
